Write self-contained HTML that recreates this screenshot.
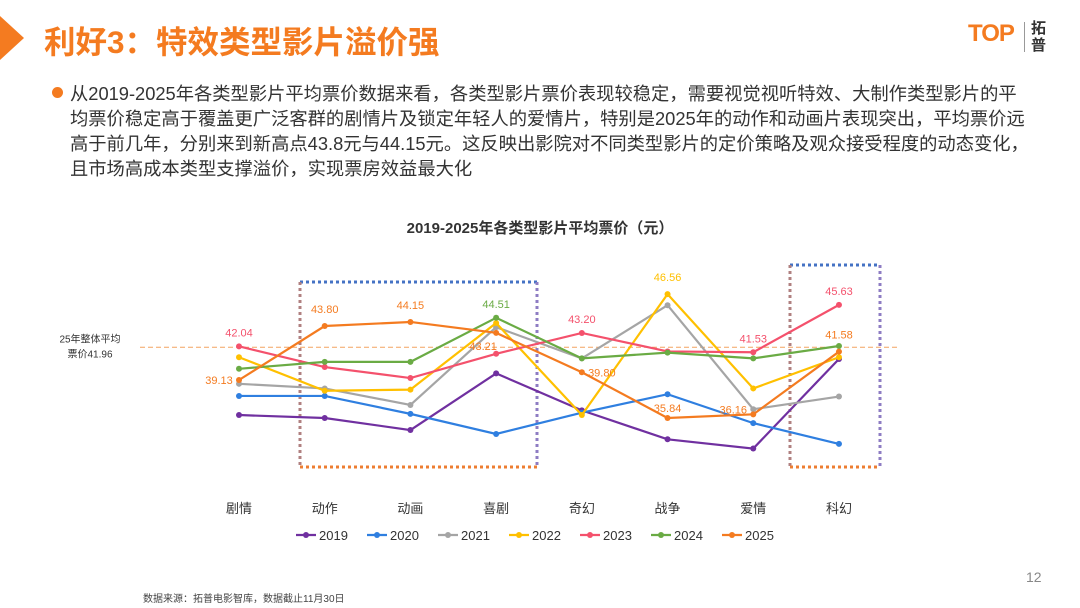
<!DOCTYPE html>
<html><head><meta charset="utf-8">
<style>
body{margin:0;width:1080px;height:608px;background:#fff;position:relative;overflow:hidden;font-family:"Liberation Sans","Noto Sans CJK SC",sans-serif}
.abs{position:absolute}
.line{position:absolute;left:70px;font-size:18.3px;color:#333;white-space:nowrap}
</style></head><body>
<svg class="abs" style="left:0;top:16px" width="30" height="44"><polygon points="0,0 24,22 0,44" fill="#F47B20"/></svg>
<div class="abs" style="left:44px;top:17px;font-size:31.5px;font-weight:bold;color:#F47B20;white-space:nowrap">利好3：特效类型影片溢价强</div>
<div class="abs" style="left:968px;top:18px;width:100px;height:40px">
 <div class="abs" style="left:0;top:2px;font-size:24px;font-weight:bold;color:#F47B20;letter-spacing:-1px">TOP</div>
 <div class="abs" style="left:56px;top:4px;width:1px;height:30px;background:#999"></div>
 <div class="abs" style="left:63px;top:2px;font-size:15px;line-height:17px;color:#333;font-weight:bold">拓<br>普</div>
</div>
<div class="abs" style="left:52px;top:87px;width:11px;height:11px;border-radius:50%;background:#F47B20"></div>
<div>
<div class="line" style="top:80px">从2019-2025年各类型影片平均票价数据来看，各类型影片票价表现较稳定，需要视觉视听特效、大制作类型影片的平</div>
<div class="line" style="top:105px">均票价稳定高于覆盖更广泛客群的剧情片及锁定年轻人的爱情片，特别是2025年的动作和动画片表现突出，平均票价远</div>
<div class="line" style="top:130px">高于前几年，分别来到新高点43.8元与44.15元。这反映出影院对不同类型影片的定价策略及观众接受程度的动态变化，</div>
<div class="line" style="top:155px">且市场高成本类型支撑溢价，实现票房效益最大化</div>
</div>
<div class="abs" style="left:1026px;top:569px;font-size:14px;color:#888">12</div>
<div class="abs" style="left:143px;top:590px;font-size:10px;color:#444">数据来源：拓普电影智库，数据截止11月30日</div>
<svg id="chart" class="abs" style="left:0;top:0" width="1080" height="608"></svg>
<script>
const categories=["剧情","动作","动画","喜剧","奇幻","战争","爱情","科幻"];
const years=["2019","2020","2021","2022","2023","2024","2025"];
const colors=["#7030A0","#2F7FE0","#A5A5A5","#FFC000","#F4516C","#6AAB44","#F47B20"];
const s2019=[36.1,35.84,34.8,39.7,36.5,34.0,33.2,40.95];
const s2020=[37.75,37.75,36.2,34.46,36.3,37.9,35.4,33.6];
const s2021=[38.8,38.4,36.97,43.7,41.0,45.6,36.6,37.7];
const s2022=[41.1,38.2,38.3,44.06,36.1,46.56,38.4,41.1];
const s2023=[42.04,40.25,39.3,41.4,43.2,41.6,41.53,45.63];
const s2024=[40.1,40.7,40.7,44.51,41.0,41.5,41.0,42.07];
const s2025=[39.13,43.80,44.15,43.21,39.80,35.84,36.16,41.58];
const refValue=41.96;
const series=[s2019,s2020,s2021,s2022,s2023,s2024,s2025];
const labels2023=[0,4,6,7];
const svg=document.getElementById('chart');
const NS='http://www.w3.org/2000/svg';
const x=i=>239+i*85.71;
const y=v=>380-(v-39.13)*11.56;
function mk(t,a,p){const e=document.createElementNS(NS,t);for(const k in a)e.setAttribute(k,a[k]);(p||svg).appendChild(e);return e;}
let t=mk('text',{x:540,y:233,'text-anchor':'middle','font-size':15,'font-weight':'bold',fill:'#333'});t.textContent='2019-2025年各类型影片平均票价（元）';


let r=mk('line',{x1:140,x2:900,y1:y(refValue),y2:y(refValue),stroke:'#F4A460','stroke-width':1,'stroke-dasharray':'5,3'});


let rl=mk('text',{x:90,y:y(refValue)-5,'text-anchor':'middle','font-size':10,fill:'#333'});rl.textContent='25年整体平均';


let rl2=mk('text',{x:90,y:y(refValue)+10,'text-anchor':'middle','font-size':10,fill:'#333'});rl2.textContent='票价'+refValue;


function box(x1,y1,x2,y2,name){const g=mk('g',{});
 const d={'stroke-width':3,'stroke-dasharray':'3,3',fill:'none'};
 mk('line',Object.assign({x1,y1,x2,y2:y1,stroke:'#4472C4'},d),g);
 mk('line',Object.assign({x1:x2,y1,x2,y2,stroke:'#8E7CC3'},d),g);
 mk('line',Object.assign({x1,y1,x2:x1,y2,stroke:'#B08080'},d),g);
 mk('line',Object.assign({x1,y1:y2,x2,y2,stroke:'#ED7D31'},d),g);}
box(300,282,537,467,'highlight-box-action-comedy');
box(790,265,880,467,'highlight-box-scifi');
categories.forEach((c,i)=>{const e=mk('text',{x:x(i),y:513,'text-anchor':'middle','font-size':13,fill:'#333'});e.textContent=c;
 
 });
series.forEach((s,k)=>{const g=mk('g',{});
 
 
 mk('polyline',{points:s.map((v,i)=>x(i)+','+y(v)).join(' '),fill:'none',stroke:colors[k],'stroke-width':2.2},g);
 s.forEach((v,i)=>{const c=mk('circle',{cx:x(i),cy:y(v),r:3,fill:colors[k]},g);
  
  });});
function lab(k,i,dx,dy){const v=series[k][i];const e=mk('text',{x:x(i)+dx,y:y(v)+dy,'text-anchor':'middle','font-size':11,fill:colors[k]});e.textContent=v.toFixed(2);
 
 }
labels2023.forEach(i=>lab(4,i,0,-10));
lab(5,3,0,-10);lab(3,5,0,-13);
lab(6,0,-20,4);lab(6,1,0,-13);lab(6,2,0,-13);lab(6,3,-13,17);lab(6,4,20,4);lab(6,5,0,-6);lab(6,6,-20,-1);lab(6,7,0,-13);
years.forEach((yr,k)=>{const lx=296+k*71;const g=mk('g',{});
 
 
 mk('line',{x1:lx,x2:lx+20,y1:535,y2:535,stroke:colors[k],'stroke-width':2.2},g);
 mk('circle',{cx:lx+10,cy:535,r:3,fill:colors[k]},g);
 const e=mk('text',{x:lx+23,y:540,'font-size':13,fill:'#333'},g);e.textContent=yr;});
</script>
</body></html>
